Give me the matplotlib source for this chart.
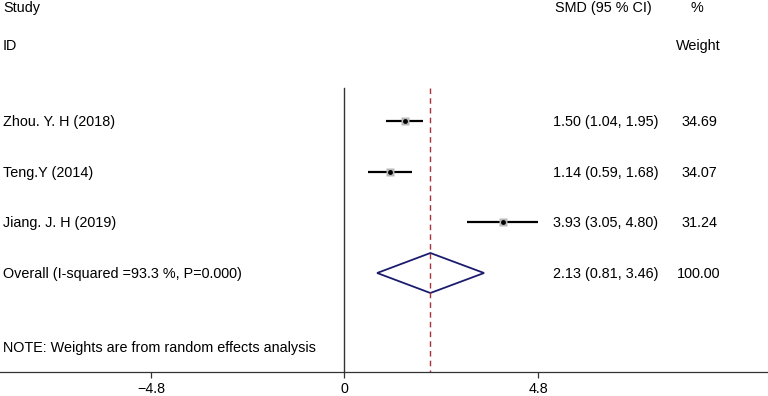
import matplotlib
matplotlib.use("Agg")
import matplotlib.pyplot as plt
from matplotlib.patches import Polygon

plt.rcParams["font.family"] = ["Liberation Sans", "DejaVu Sans"]

studies = ["Zhou. Y. H (2018)", "Teng.Y (2014)", "Jiang. J. H (2019)"]
smd = [1.50, 1.14, 3.93]
lower = [1.04, 0.59, 3.05]
upper = [1.95, 1.68, 4.80]
weights = [34.69, 34.07, 31.24]
overall = (2.13, 0.81, 3.46)
overall_label = "Overall (I-squared =93.3 %, P=0.000)"
ticks = [-4.8, 0, 4.8]
tick_labels = ["\u22124.8", "0", "4.8"]

W, H = 768, 396
fig = plt.figure(figsize=(W / 100, H / 100), dpi=100)
ax = fig.add_axes([0, (H - 372) / H, 1, 372 / H])
ax.set_ylim(372, 0)
ax.set_xlim(-8.54, 10.50)
for s in ["top", "left", "right"]:
    ax.spines[s].set_visible(False)
ax.spines["bottom"].set_color("#333333")
ax.spines["bottom"].set_linewidth(0.9)
ax.set_yticks([])
ax.set_xticks(ticks)
ax.set_xticklabels(tick_labels)
ax.tick_params(axis="x", length=4, width=0.9, color="#333333", labelsize=10.3,
               pad=3)

fs = 10.35
col = ax.get_yaxis_transform()  # x in axes fraction, y in data (pixels)


def px(x):
    return x / W


rows_y = [121, 172, 222]
overall_y = 273

# zero line and overall effect line
ax.plot([0, 0], [88, 372], color="#333333", lw=1.0, clip_on=False)
ax.plot([overall[0], overall[0]], [88, 372], color="#a8323c", lw=1.0,
        ls=(0, (4, 3)))

# headers
ax.text(px(3), 8, "Study", transform=col, fontsize=fs, va="center")
ax.text(px(3), 46, "ID", transform=col, fontsize=fs, va="center")
ax.text(px(555), 8, "SMD (95 % CI)", transform=col, fontsize=fs, va="center")
ax.text(px(697), 8, "%", transform=col, fontsize=fs, va="center", ha="center")
ax.text(px(676), 46, "Weight", transform=col, fontsize=fs, va="center")

for name, m, lo, hi, w, y in zip(studies, smd, lower, upper, weights, rows_y):
    ax.plot([lo, hi], [y, y], color="black", lw=1.6, solid_capstyle="butt")
    ax.plot(m, y, marker="s", ms=w / 5.5, color="#b8b8b8", mec="none")
    ax.plot(m, y, marker="o", ms=3.5, color="black", mec="none")
    ax.text(px(3), y + 1, name, transform=col, fontsize=fs, va="center")
    ax.text(px(553), y + 1, f"{m:.2f} ({lo:.2f}, {hi:.2f})", transform=col,
            fontsize=fs, va="center")
    ax.text(px(717), y + 1, f"{w:.2f}", transform=col, fontsize=fs,
            va="center", ha="right")

est, lo, hi = overall
diamond = Polygon([[lo, overall_y], [est, overall_y - 20], [hi, overall_y],
                   [est, overall_y + 20]], closed=True, fill=False,
                  edgecolor="#1c1c6e", lw=1.3)
ax.add_patch(diamond)
ax.text(px(3), overall_y + 1, overall_label, transform=col, fontsize=fs,
        va="center")
ax.text(px(553), overall_y + 1, f"{est:.2f} ({lo:.2f}, {hi:.2f})",
        transform=col, fontsize=fs, va="center")
ax.text(px(720), overall_y + 1, f"{sum(weights):.2f}", transform=col,
        fontsize=fs, va="center", ha="right")

ax.text(px(3), 348, "NOTE: Weights are from random effects analysis",
        transform=col, fontsize=fs, va="center")

fig.savefig("out.png", dpi=100)
